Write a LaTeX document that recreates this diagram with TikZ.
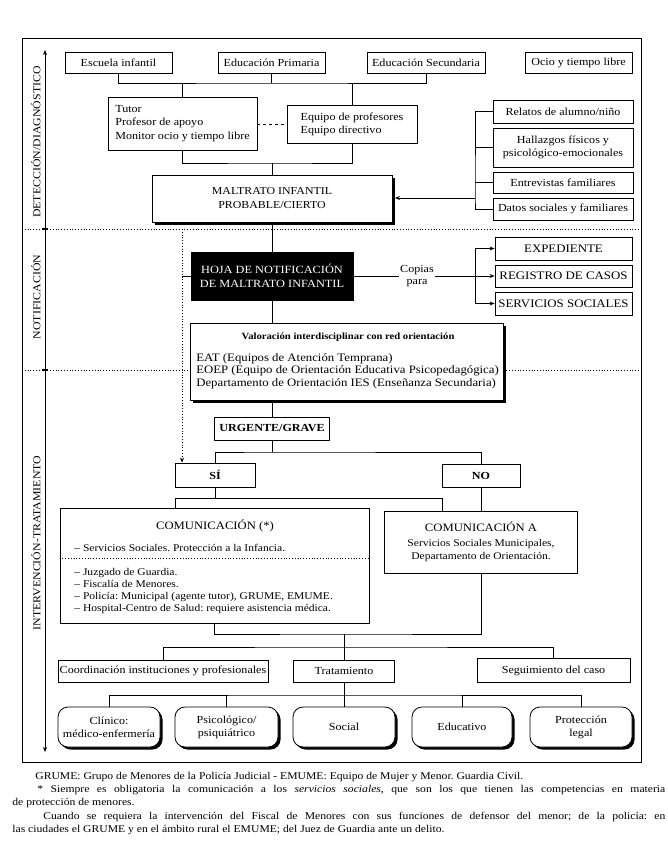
\documentclass[tikz,border=0pt]{standalone}
\usepackage{fontspec}
\setmainfont{Liberation Serif}[FakeStretch=1.12]
\usetikzlibrary{arrows.meta,shadows}
\newcommand{\fsz}[2]{\fontsize{#1}{#2}\selectfont}
\frenchspacing
\tikzset{
  box/.style={draw, line width=0.8pt, fill=white, inner sep=1pt, align=center, font=\fsz{10.8}{13}},
  sbox/.style={box, drop shadow={shadow xshift=2.5pt, shadow yshift=-2.5pt, fill=black, opacity=1}},
  rbox/.style={sbox, rounded corners=10pt, minimum width=102pt, minimum height=40pt},
  capbox/.style={box, font=\fsz{11.5}{13}},
  lab/.style={rotate=90, font=\fsz{10.6}{12}},
  note/.style={anchor=base west, inner sep=0pt, font=\fsz{10.4}{13}},
}
\begin{document}
\begin{tikzpicture}[x=1pt, y=-1pt, line width=0.7pt, >={Stealth[length=5pt,width=4pt]}]
    \useasboundingbox (0,0) rectangle (667,864);
    \draw (22,38) rectangle (641,762);
    \draw[dotted, line width=0.8pt] (22,229) -- (641,229);
    \draw[dotted, line width=0.8pt] (22,370) -- (641,370);
    \draw[|->] (45,229) -- (45,50);
    \draw[|-|] (45,229) -- (45,370);
    \draw[|->] (45,370) -- (45,752);
    \node[lab] (l1) at (36,142) {DETECCIÓN/DIAGNÓSTICO};
    \node[lab] (l2) at (36,297) {NOTIFICACIÓN};
    \node[lab] (l3) at (36,543) {INTERVENCIÓN-TRATAMIENTO};

    \node[box, minimum width=107pt, minimum height=21pt] (esc) at (118.5,62.5) {Escuela infantil};
    \node[box, minimum width=107pt, minimum height=21pt] (pri) at (271.5,62.5) {Educación Primaria};
    \node[box, minimum width=118pt, minimum height=21pt] (sec) at (426,62.5) {Educación Secundaria};
    \node[box, minimum width=107pt, minimum height=21pt] (ocio) at (578.5,62.5) {Ocio y tiempo libre};
    \node[box, align=left, minimum width=149pt, minimum height=53pt, font=\fsz{10.8}{13.5}] (tut) at (182.5,123.5) {Tutor\\Profesor de apoyo\\Monitor ocio y tiempo libre};
    \node[box, align=left, minimum width=130pt, minimum height=38pt] (equ) at (352,124) {Equipo de profesores\\Equipo directivo};
    \node[sbox, minimum width=240pt, minimum height=47pt, font=\fsz{10.6}{14}] (mal) at (272,198.5) {MALTRATO INFANTIL\\PROBABLE/CIERTO};
    \node[box, minimum width=140pt, minimum height=23pt] (rel) at (563,111.5) {Relatos de alumno/niño};
    \node[box, minimum width=140pt, minimum height=39pt] (hal) at (563,147.5) {Hallazgos físicos y\\psicológico-emocionales};
    \node[box, minimum width=140pt, minimum height=21pt] (ent) at (563,182.5) {Entrevistas familiares};
    \node[box, minimum width=140pt, minimum height=22pt] (dat) at (563,209) {Datos sociales y familiares};

    \node[box, fill=black, text=white, minimum width=162pt, minimum height=48pt, font=\fsz{11}{14}] (hoja) at (272,276) {HOJA DE NOTIFICACIÓN\\DE MALTRATO INFANTIL};
    \node[align=center, inner sep=1pt, font=\fsz{10.8}{11.5}] (cop) at (417,276) {Copias\\para};
    \node[capbox, minimum width=137pt, minimum height=23pt] (exp) at (563.5,248.5) {EXPEDIENTE};
    \node[capbox, minimum width=137pt, minimum height=22pt] (reg) at (563.5,276) {REGISTRO DE CASOS};
    \node[capbox, minimum width=137pt, minimum height=23pt] (ser) at (563.5,303.5) {SERVICIOS SOCIALES};

    \node[sbox, minimum width=313pt, minimum height=77pt] (val) at (346.5,361.5) {};
    \node[inner sep=0pt, font=\bfseries\fsz{9.5}{11}] (valt) at (348,337) {Valoración interdisciplinar con red orientación};
    \node[anchor=north west, align=left, inner sep=0pt, font=\fsz{11.4}{12.5}] (vall) at (196,353) {EAT (Equipos de Atención Temprana)\\EOEP (Equipo de Orientación Educativa Psicopedagógica)\\Departamento de Orientación IES (Enseñanza Secundaria)};

    \node[box, minimum width=115pt, minimum height=23pt, font=\bfseries\fsz{10.8}{13}] (urg) at (272,428.5) {URGENTE/GRAVE};
    \node[box, minimum width=80pt, minimum height=24pt, font=\bfseries\fsz{10.8}{13}] (si) at (215,475) {SÍ};
    \node[box, minimum width=78pt, minimum height=23pt, font=\bfseries\fsz{10.8}{13}] (no) at (481,475.5) {NO};

    \node[box, minimum width=309pt, minimum height=115pt] (com) at (214.5,565.5) {};
    \node[inner sep=0pt, font=\fsz{11.3}{13}] (comt) at (215,526) {COMUNICACIÓN (*)};
    \node[anchor=west, inner sep=0pt, font=\fsz{10.3}{12}] (coms) at (74,548) {-- Servicios Sociales. Protección a la Infancia.};
    \draw[dotted, line width=0.8pt] (com.west |- coms.south) ++(0,6) coordinate (c1) -- (c1 -| com.east);
    \node[anchor=north west, align=left, inner sep=0pt, font=\fsz{10.3}{12}] (coml) at (74,568) {-- Juzgado de Guardia.\\-- Fiscalía de Menores.\\-- Policía: Municipal (agente tutor), GRUME, EMUME.\\-- Hospital-Centro de Salud: requiere asistencia médica.};
    \node[box, minimum width=193pt, minimum height=62pt, font=\fsz{10.3}{13}] (coma) at (481,542) {{\fsz{11.3}{13}COMUNICACIÓN A}\\[2pt]Servicios Sociales Municipales,\\Departamento de Orientación.};

    \node[box, minimum width=210pt, minimum height=22pt] (coo) at (163,671) {Coordinación instituciones y profesionales};
    \node[box, minimum width=101pt, minimum height=22pt] (tra) at (344,671) {Tratamiento};
    \node[box, minimum width=153pt, minimum height=24pt] (seg) at (553.5,670.5) {Seguimiento del caso};
    \node[rbox] (cli) at (109,727) {Clínico:\\médico-enfermería};
    \node[rbox, minimum width=103pt] (psi) at (226.5,727) {Psicológico/\\psiquiátrico};
    \node[rbox] (soc) at (344,727) {Social};
    \node[rbox, minimum width=100pt] (edu) at (462,727) {Educativo};
    \node[rbox] (pro) at (581,727) {Protección\\legal};

    \coordinate (j0) at (272,83);
    \draw (esc.south) |- (j0) -| (sec.south);
    \draw (pri.south) -- (pri.south |- j0);
    \draw (tut.north) -- (tut.north |- j0);
    \draw (equ.north) -- (equ.north |- j0);
    \draw[dashed] (tut.east |- equ.west) -- (equ.west);
    \coordinate (jb) at (272,163);
    \draw (tut.south) |- (jb) -| (equ.south);
    \draw (mal.north) -- (jb);
    \coordinate (j1) at (475,198);
    \draw (rel.west) -| (j1) |- (dat.west);
    \draw (hal.west) -- (hal.west -| j1);
    \draw (ent.west) -- (ent.west -| j1);
    \draw[->] (j1) -- ([xshift=2.5pt]j1 -| mal.east);

    \draw (mal.south) -- (hoja.north);
    \coordinate (j2) at (475,276);
    \draw (hoja.east) -- (cop.west);
    \draw[->] (cop.east) -- (reg.west);
    \draw[->] (j2) |- (exp.west);
    \draw[->] (j2) |- (ser.west);
    \coordinate (d1) at (182,229);
    \coordinate (d2) at (182,276);
    \draw[dotted, line width=0.8pt, ->] (d1) -- (d1 |- si.north);
    \draw (d2) -- (hoja.west);
    \draw (hoja.south) -- (hoja.south |- val.north);
    \draw (urg.north |- val.south) -- (urg.north);

    \coordinate (j3) at (272,452);
    \draw (urg.south) -- (j3);
    \draw (si.north) |- (j3) -| (no.north);
    \coordinate (j4) at (175,498);
    \coordinate (j4b) at (442,498);
    \draw (si.south) -- (si.south |- j4);
    \draw (j4 |- com.north) -- (j4) -- (j4b) -- (j4b |- coma.north);
    \draw (no.south) -- (coma.north);
    \coordinate (j5) at (344,634);
    \draw (coma.south) |- (j5) -| (com.south);
    \draw (tra.north) -- (j5);
    \coordinate (j6) at (344,647);
    \draw (coo.north) |- (j6) -| (seg.north);
    \coordinate (j7) at (344,695);
    \draw (tra.south) -- (j7);
    \draw (cli.north) |- (j7) -| (pro.north);
    \draw (psi.north) -- (psi.north |- j7);
    \draw (soc.north) -- (j7);
    \draw (edu.north) -- (edu.north |- j7);

    \node[note] (n1) at (35,779) {GRUME: Grupo de Menores de la Policía Judicial - EMUME: Equipo de Mujer y Menor. Guardia Civil.};
    \node[note] (n2) at (37,792) {\makebox[628pt][s]{* Siempre es obligatoria la comunicación a los \textit{servicios sociales}, que son los que tienen las competencias en materia}};
    \node[note] (n3) at (12,805) {de protección de menores.};
    \node[note] (n4) at (43,819) {\makebox[622pt][s]{Cuando se requiera la intervención del Fiscal de Menores con sus funciones de defensor del menor; de la policía: en}};
    \node[note] (n5) at (12,832) {las ciudades el GRUME y en el ámbito rural el EMUME; del Juez de Guardia ante un delito.};
\end{tikzpicture}
\end{document}
